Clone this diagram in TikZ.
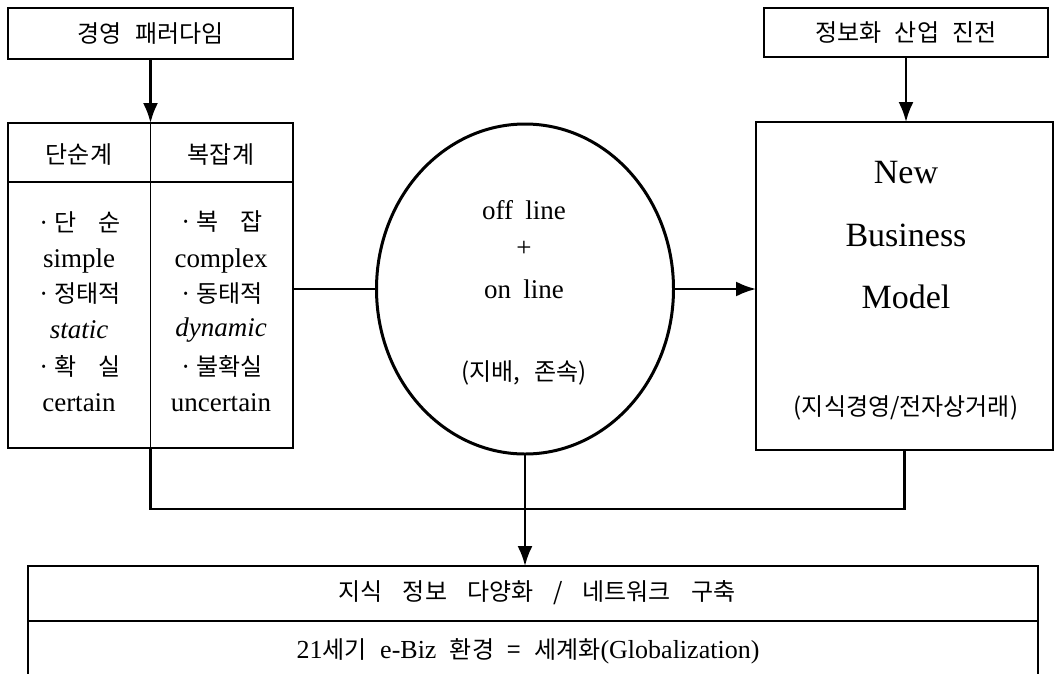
\documentclass[tikz,border=0pt]{standalone}
\usepackage{fontspec}
\setmainfont{Liberation Serif}
\newfontfamily\kr[WordSpace=2.5]{Noto Sans CJK KR}
\usetikzlibrary{arrows.meta,shapes.geometric}
\newcommand\wsp{\hspace{20pt}}
\begin{document}
\begin{tikzpicture}[x=1pt,y=-1pt,
  box/.style={draw, line width=2.8pt, rectangle, inner sep=0pt, outer sep=0pt},
  kt/.style={inner sep=0pt, outer sep=0pt, font=\kr\fontsize{24}{28}\selectfont},
  lt/.style={inner sep=0pt, outer sep=0pt, font=\fontsize{27}{31}\selectfont},
  big/.style={inner sep=0pt, outer sep=0pt, font=\fontsize{34}{40}\selectfont},
  thinline/.style={line width=1.7pt},
  conn/.style={line width=2.3pt},
  arr/.style={line width=2.3pt, -{Latex[length=20pt,width=15pt]}}]
\useasboundingbox (0,0) rectangle (1059,673);

% top boxes
\node[box, kt, minimum width=285pt, minimum height=51pt] (pd) at (150.5,33.5) {경영 패러다임};
\node[box, kt, minimum width=284pt, minimum height=49pt] (it) at (906,32.5) {정보화 산업 진전};

% left table
\node[box, minimum width=285pt, minimum height=325pt] (tab) at (150.5,285.5) {};
\coordinate (hl) at (0,182);
\draw[thinline] (tab.west |- hl) -- (tab.east |- hl);
\draw[thinline] (tab.north) -- (tab.south);
\node[kt] (h1) at (79,155) {단순계};
\node[kt] (h2) at (221,155) {복잡계};
\node[kt] (l1) at (79,222) {·\,단\hspace{22pt}순};
\node[lt] (l2) at (79,261) {simple};
\node[kt] (l3) at (79,294) {·\,정태적};
\node[lt] (l4) at (79,330) {\itshape static};
\node[kt] (l5) at (79,366) {·\,확\hspace{22pt}실};
\node[lt] (l6) at (79,403) {certain};
\node[kt] (r1) at (221,222) {·\,복\hspace{22pt}잡};
\node[lt] (r2) at (221,261) {complex};
\node[kt] (r3) at (221,294) {·\,동태적};
\node[lt] (r4) at (221,330) {\itshape dynamic};
\node[kt] (r5) at (221,366) {·\,불확실};
\node[lt] (r6) at (221,403) {uncertain};

% ellipse
\node[draw, ellipse, line width=3pt, minimum width=297pt, minimum height=330pt, inner sep=0pt, outer sep=0pt] (ell) at (525,289) {};
\node[lt] (o1) at (524,210) {off\hspace{0.45em}line};
\node[lt] (o2) at (524,249) {+};
\node[lt] (o3) at (524,289) {on\hspace{0.45em}line};
\node[kt] (o4) at (524,373) {(지배, 존속)};

% new business model
\node[box, minimum width=297pt, minimum height=328pt] (nbm) at (904.5,286) {};
\node[big] (n1) at (906,173) {New};
\node[big] (n2) at (906,235) {Business};
\node[big] (n3) at (906,297) {Model};
\node[kt] (n4) at (906,408) {(지식경영/전자상거래)};

% bottom box (open at the bottom)
\node[minimum width=1010pt, minimum height=120pt, inner sep=0pt, outer sep=0pt] (bot) at (533,626) {};
\draw[line width=2.8pt] (bot.south west) |- (bot.north east) -- (bot.south east);
\coordinate (ml) at (0,621);
\draw[thinline] (bot.west |- ml) -- (bot.east |- ml);
\node[kt] (b1) at (537,593) {지식\wsp 정보\wsp 다양화\wsp /\wsp 네트워크\wsp 구축};
\node[kt] (b2) at (528,651) {{\rmfamily\fontsize{26}{30}\selectfont 21}세기 {\rmfamily\fontsize{26}{30}\selectfont e-Biz} 환경 = 세계화{\rmfamily\fontsize{26}{30}\selectfont (Globalization)}};

% connectors
\draw[arr] (pd.south) -- (tab.north);
\draw[arr] (it.south) -- (it.south |- nbm.north);
\draw[conn] (tab.east |- ell.west) -- (ell.west);
\draw[arr] (ell.east) -- (ell.east -| nbm.west);
\coordinate (jn) at (528,509);
\draw[conn] (tab.south) -- (tab.south |- jn) -| (nbm.south);
\draw[arr] (ell.south) -- (ell.south |- bot.north);
\end{tikzpicture}
\end{document}
